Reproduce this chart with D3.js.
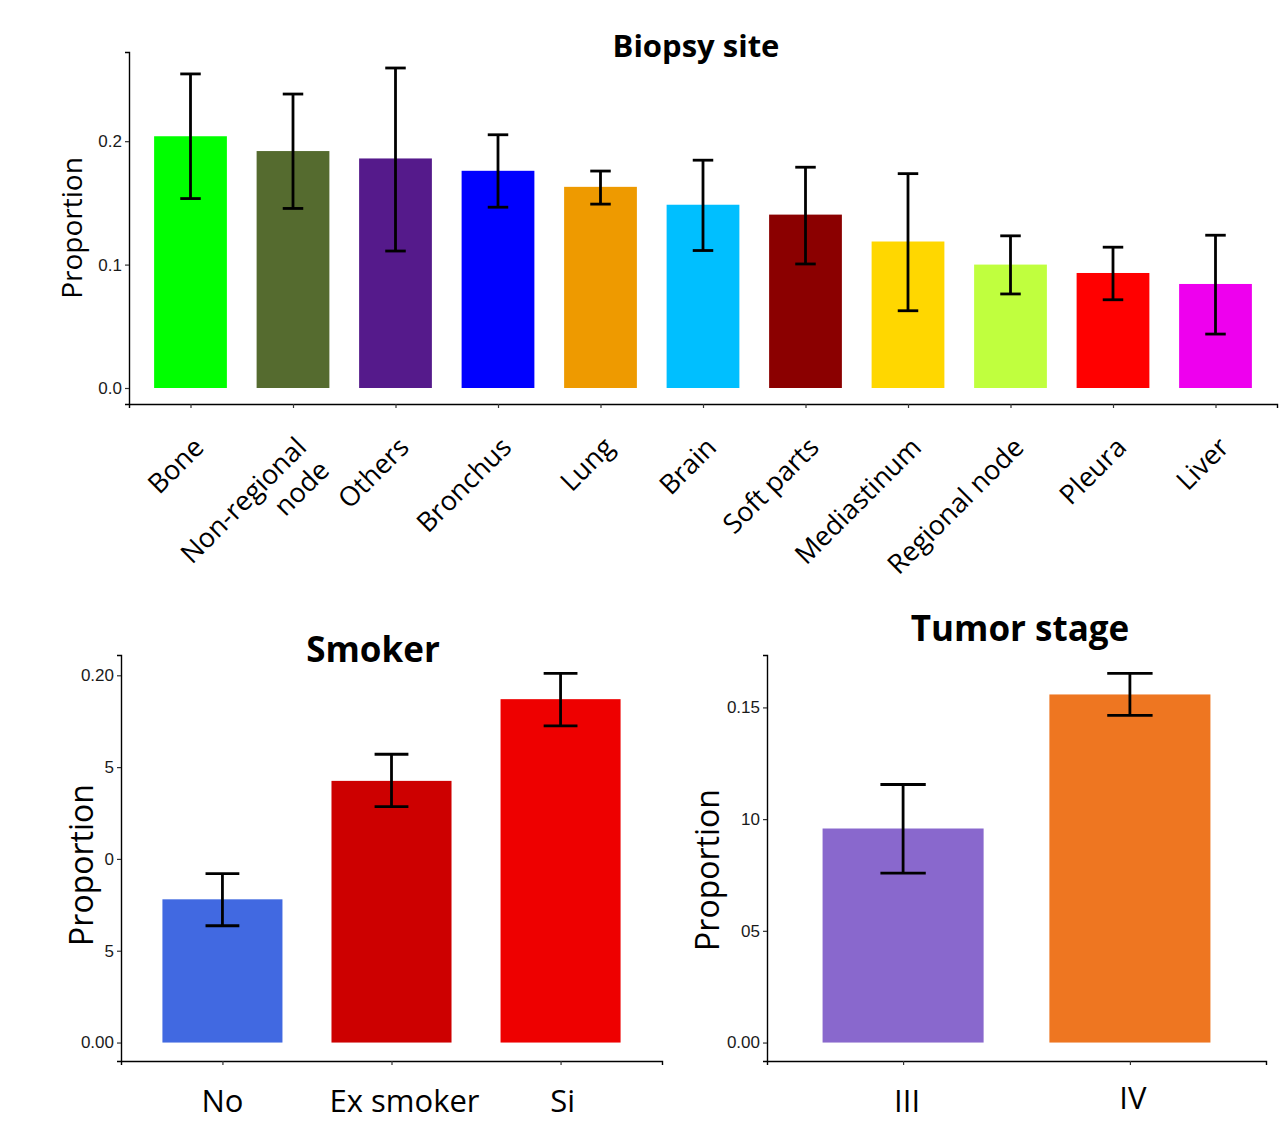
<!DOCTYPE html>
<html>
<head>
<meta charset="utf-8">
<script src="https://cdn.jsdelivr.net/npm/d3@7"></script>
<style>
  html, body { margin: 0; padding: 0; background: #fff; }
  svg { display: block; }
</style>
</head>
<body>
<svg id="chart" width="1280" height="1130"></svg>
<script>
// ---------- DATA ----------
const biopsyCategories = ["Bone", "Non-regional\nnode", "Others", "Bronchus", "Lung", "Brain", "Soft parts", "Mediastinum", "Regional node", "Pleura", "Liver"];
const biopsyValues = [0.204, 0.192, 0.186, 0.176, 0.163, 0.1485, 0.1405, 0.1187, 0.100, 0.0932, 0.0843];
const biopsyLower  = [0.1535, 0.1455, 0.111, 0.1465, 0.149, 0.1114, 0.1005, 0.0626, 0.0762, 0.0715, 0.0437];
const biopsyUpper  = [0.2545, 0.2382, 0.2593, 0.2052, 0.1758, 0.1846, 0.1789, 0.1737, 0.1233, 0.1141, 0.1238];
const biopsyColors = ["#00FF00", "#556B2F", "#551A8B", "#0000FF", "#EE9A00", "#00BFFF", "#8B0000", "#FFD700", "#C0FF3E", "#FF0000", "#EE00EE"];
const biopsyTicks = [0, 0.1, 0.2];
const biopsyTickLabels = ["0.0", "0.1", "0.2"];

const smokerCategories = ["No", "Ex smoker", "Si"];
const smokerValues = [0.078, 0.1425, 0.187];
const smokerLower  = [0.0636, 0.1285, 0.1724];
const smokerUpper  = [0.092, 0.157, 0.201];
const smokerColors = ["#4169E1", "#CD0000", "#EE0000"];
const smokerTicks = [0, 0.05, 0.10, 0.15, 0.20];
const smokerTickLabels = ["0.00", "5", "0", "5", "0.20"];

const stageCategories = ["III", "IV"];
const stageValues = [0.0958, 0.1558];
const stageLower  = [0.0758, 0.1464];
const stageUpper  = [0.1155, 0.1652];
const stageColors = ["#8968CD", "#EE7621"];
const stageTicks = [0, 0.05, 0.10, 0.15];
const stageTickLabels = ["0.00", "05", "10", "0.15"];

// ---------- DRAW ----------
const svg = d3.select("#chart");
const titleFont = "'Open Sans', 'Noto Sans', sans-serif";
const tickFont = "'Liberation Sans', Arial, sans-serif";

function panel(cfg) {
  const g = svg.append("g");
  const maxU = d3.max(cfg.upper);
  const pad = maxU * 0.05;
  const y = d3.scaleLinear().domain([-pad, maxU + pad]).range([cfg.bottom, cfg.top]);
  const x = d3.scalePoint().domain(cfg.categories).range([cfg.left, cfg.right]).padding(0.6);
  const step = x.step();
  const bw = step * 0.71;
  const cw = step * 0.2;

  const data = cfg.categories.map((c, i) => ({c, i, v: cfg.values[i], lo: cfg.lower[i], hi: cfg.upper[i], col: cfg.colors[i]}));

  g.selectAll("rect.bar").data(data).enter().append("rect")
    .attr("class", "bar")
    .attr("x", d => x(d.c) - bw / 2)
    .attr("width", bw)
    .attr("y", d => y(d.v))
    .attr("height", d => y(0) - y(d.v))
    .attr("fill", d => d.col);

  const eb = g.selectAll("g.err").data(data).enter().append("g").attr("class", "err")
    .attr("stroke", "#000").attr("stroke-width", cfg.errW).attr("fill", "none");
  eb.append("line").attr("x1", d => x(d.c)).attr("x2", d => x(d.c)).attr("y1", d => y(d.lo)).attr("y2", d => y(d.hi));
  eb.append("line").attr("x1", d => x(d.c) - cw / 2).attr("x2", d => x(d.c) + cw / 2).attr("y1", d => y(d.hi)).attr("y2", d => y(d.hi));
  eb.append("line").attr("x1", d => x(d.c) - cw / 2).attr("x2", d => x(d.c) + cw / 2).attr("y1", d => y(d.lo)).attr("y2", d => y(d.lo));

  // y axis
  const ya = g.append("g").attr("transform", `translate(${cfg.left},0)`)
    .call(d3.axisLeft(y).tickValues(cfg.ticks).tickFormat((d, i) => cfg.tickLabels[i]).tickSizeOuter(0).tickSize(4).tickPadding(3));
  ya.select(".domain").attr("stroke", "#000").attr("stroke-width", 1.4);
  ya.selectAll(".tick line").attr("stroke", "#333").attr("stroke-width", 1.2);
  ya.selectAll(".tick text").attr("font-family", tickFont).attr("font-size", cfg.tickSize).attr("fill", "#1a1a1a");

  // x axis
  const xa = g.append("g").attr("transform", `translate(0,${cfg.bottom})`)
    .call(d3.axisBottom(x).tickSizeOuter(0).tickSize(4).tickFormat(""));
  xa.select(".domain").attr("stroke", "#000").attr("stroke-width", 1.4);
  xa.selectAll(".tick line").attr("stroke", "#333").attr("stroke-width", 1.2);
  xa.selectAll(".tick text").remove();

  const lab = g.append("g").attr("font-family", titleFont).attr("font-size", cfg.xLabSize).attr("fill", "#000");
  if (cfg.rotate) {
    data.forEach(d => {
      const lines = d.c.split("\n");
      const t = lab.append("text")
        .attr("text-anchor", "end")
        .attr("transform", `translate(${x(d.c) + cfg.rdx},${cfg.bottom + cfg.rdy}) rotate(-45)`);
      lines.forEach((ln, k) => {
        t.append("tspan").attr("x", 0).attr("dy", k === 0 ? 0 : "1.2em").text(ln);
      });
    });
  } else {
    data.forEach(d => {
      const nudge = cfg.labNudge ? cfg.labNudge[d.i] : [0, 0];
      lab.append("text").attr("text-anchor", "middle")
        .attr("x", x(d.c) + nudge[0]).attr("y", cfg.bottom + cfg.xLabDy + nudge[1]).text(d.c);
    });
  }

  // y title
  g.append("text")
    .attr("transform", `translate(${cfg.yTitleX},${(cfg.top + cfg.bottom) / 2 + cfg.yTitleDy}) rotate(-90)`)
    .attr("text-anchor", "middle")
    .attr("font-family", titleFont).attr("font-size", cfg.yTitleSize).attr("fill", "#000")
    .text("Proportion");

  // title
  g.append("text")
    .attr("x", cfg.titleX).attr("y", cfg.titleY)
    .attr("text-anchor", "middle")
    .attr("font-family", titleFont).attr("font-weight", "bold")
    .attr("font-size", cfg.titleSize).attr("fill", "#000")
    .text(cfg.title);
}

panel({
  categories: biopsyCategories, values: biopsyValues, lower: biopsyLower, upper: biopsyUpper, colors: biopsyColors,
  ticks: biopsyTicks, tickLabels: biopsyTickLabels,
  left: 129, right: 1277, top: 52, bottom: 404,
  errW: 2.8, tickSize: 17, xLabSize: 27, rotate: true, rdx: 15, rdy: 45,
  yTitleX: 82, yTitleDy: 0, yTitleSize: 28,
  title: "Biopsy site", titleX: 696, titleY: 57, titleSize: 31
});

panel({
  categories: smokerCategories, values: smokerValues, lower: smokerLower, upper: smokerUpper, colors: smokerColors,
  ticks: smokerTicks, tickLabels: smokerTickLabels,
  left: 121, right: 662, top: 655, bottom: 1061,
  errW: 2.8, tickSize: 17, xLabSize: 31, rotate: false, xLabDy: 51,
  labNudge: [[0, 0], [13, 0], [2, 0]],
  yTitleX: 93, yTitleDy: 7, yTitleSize: 32,
  title: "Smoker", titleX: 373, titleY: 662, titleSize: 35
});

panel({
  categories: stageCategories, values: stageValues, lower: stageLower, upper: stageUpper, colors: stageColors,
  ticks: stageTicks, tickLabels: stageTickLabels,
  left: 767, right: 1266, top: 655, bottom: 1061,
  errW: 2.8, tickSize: 17, xLabSize: 31, rotate: false, xLabDy: 51,
  labNudge: [[4, 0], [3, -3]],
  yTitleX: 719, yTitleDy: 12, yTitleSize: 32,
  title: "Tumor stage", titleX: 1020, titleY: 641, titleSize: 35
});
</script>
</body>
</html>
